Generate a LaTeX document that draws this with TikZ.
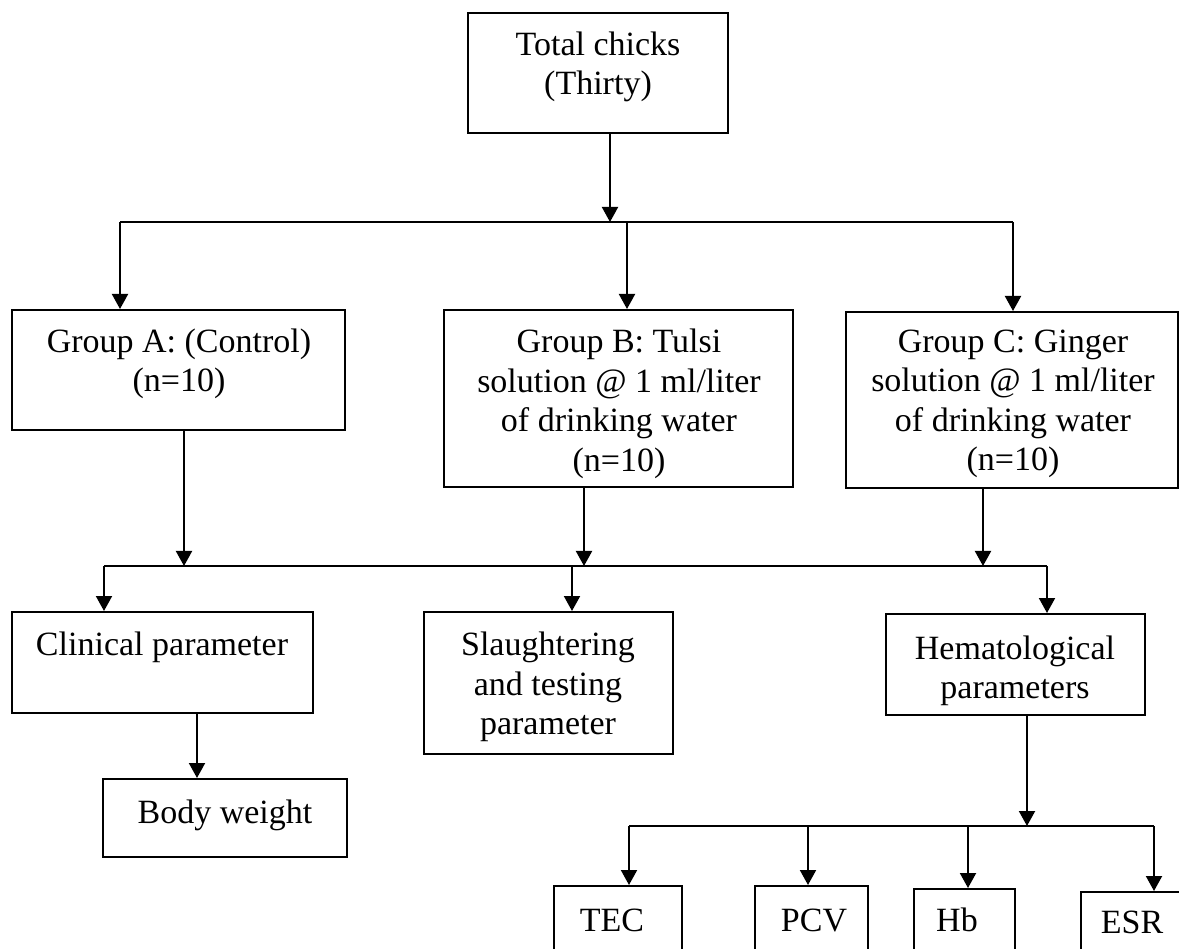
\documentclass[tikz,border=0pt]{standalone}
\usepackage{fontspec}
\setmainfont{Liberation Serif}
\usetikzlibrary{arrows.meta}
\begin{document}
\begin{tikzpicture}[x=1pt,y=-1pt,
  box/.style={draw,line width=2pt,rectangle,inner sep=0pt},
  txt/.style={align=center,inner sep=0pt,font=\fontsize{34}{39.5}\selectfont},
  conn/.style={line width=2pt},
  arr/.style={line width=2pt,-{Triangle[length=15pt,width=16pt]}}]
\clip (0,0) rectangle (1179,949);
\fill[white] (0,0) rectangle (1179,949);

% boxes
\node[box,minimum width=260pt,minimum height=120pt] (total) at (598,73) {};
\node[box,minimum width=333pt,minimum height=120pt] (gA) at (178.5,370) {};
\node[box,minimum width=349pt,minimum height=177pt] (gB) at (618.5,398.5) {};
\node[box,minimum width=332pt,minimum height=176pt] (gC) at (1012,400) {};
\node[box,minimum width=301pt,minimum height=101pt] (clin) at (162.5,662.5) {};
\node[box,minimum width=249pt,minimum height=142pt] (slau) at (548.5,683) {};
\node[box,minimum width=259pt,minimum height=101pt] (hem) at (1015.5,664.5) {};
\node[box,minimum width=244pt,minimum height=78pt] (body) at (225,818) {};
\node[box,minimum width=128pt,minimum height=104pt] (tec) at (618,938) {};
\node[box,minimum width=113pt,minimum height=104pt] (pcv) at (811.5,938) {};
\node[box,minimum width=101pt,minimum height=101pt] (hb) at (964.5,939.5) {};
\node[box,minimum width=119pt,minimum height=98pt] (esr) at (1140.5,941) {};

% texts
\node[txt] (totalT) at (598,67) {Total chicks\\(Thirty)};
\node[txt] (gAT) at (179,364) {Group A: (Control)\\(n=10)};
\node[txt] (gBT) at (619,404) {Group B: Tulsi\\solution @ 1 ml/liter\\of drinking water\\(n=10)};
\node[txt] (gCT) at (1013,404) {Group C: Ginger\\solution @ 1 ml/liter\\of drinking water\\(n=10)};
\node[txt] (clinT) at (162,647) {Clinical parameter};
\node[txt] (slauT) at (548,687) {Slaughtering\\and testing\\parameter};
\node[txt] (hemT) at (1015,671) {Hematological\\parameters};
\node[txt] (bodyT) at (225,815) {Body weight};
\node[txt] (tecT) at (612,920) {TEC};
\node[txt] (pcvT) at (814,920) {PCV};
\node[txt] (hbT) at (957,920) {Hb};
\node[txt] (esrT) at (1132,922) {ESR};

% bus 1
\coordinate (j0) at (610,222);
\coordinate (b1a) at (120,222);
\coordinate (b1m) at (627,222);
\coordinate (b1b) at (1013,222);
\draw[arr] (total.south -| j0) -- (j0);
\draw[conn] (b1a) -- (b1b);
\draw[arr] (b1a) -- (b1a |- gA.north);
\draw[arr] (b1m) -- (b1m |- gB.north);
\draw[arr] (b1b) -- (b1b |- gC.north);

% bus 2
\coordinate (ja) at (184,566);
\coordinate (jb) at (584,566);
\coordinate (jc) at (983,566);
\coordinate (b2a) at (104,566);
\coordinate (b2m) at (572,566);
\coordinate (b2b) at (1047,566);
\draw[arr] (gA.south -| ja) -- (ja);
\draw[arr] (gB.south -| jb) -- (jb);
\draw[arr] (gC.south -| jc) -- (jc);
\draw[conn] (b2a) -- (b2b);
\draw[arr] (b2a) -- (b2a |- clin.north);
\draw[arr] (b2m) -- (b2m |- slau.north);
\draw[arr] (b2b) -- (b2b |- hem.north);

% clinical -> body weight
\coordinate (cb) at (197,713);
\draw[arr] (clin.south -| cb) -- (cb |- body.north);

% bus 3
\coordinate (jh) at (1027,826);
\coordinate (b3a) at (629,826);
\coordinate (b3p) at (808,826);
\coordinate (b3h) at (968,826);
\coordinate (b3b) at (1154,826);
\draw[arr] (hem.south -| jh) -- (jh);
\draw[conn] (b3a) -- (b3b);
\draw[arr] (b3a) -- (b3a |- tec.north);
\draw[arr] (b3p) -- (b3p |- pcv.north);
\draw[arr] (b3h) -- (b3h |- hb.north);
\draw[arr] (b3b) -- (b3b |- esr.north);
\end{tikzpicture}
\end{document}
